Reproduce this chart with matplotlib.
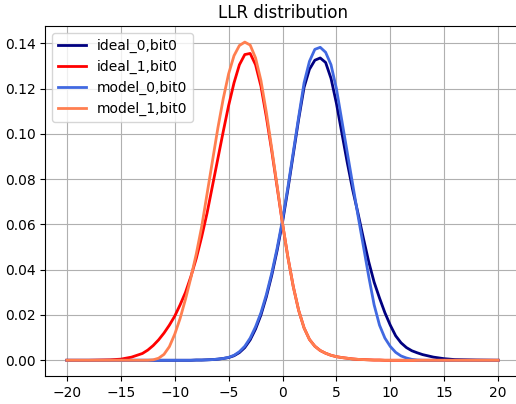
import matplotlib
matplotlib.use("Agg")
import matplotlib.pyplot as plt

# LLR axis (shared by all series)
llr = [-20, -18, -16, -15, -14, -13, -12.5, -12, -11.5, -11, -10.5, -10, -9.5, -9, -8.5, -8,
       -7.5, -7, -6.5, -6, -5.5, -5, -4.5, -4, -3.5, -3, -2.5, -2, -1.5, -1, -0.5, 0,
       0.5, 1, 1.5, 2, 2.5, 3, 3.5, 4, 4.5, 5, 5.5, 6, 6.5, 7, 7.5, 8, 8.5, 9, 9.5, 10,
       10.5, 11, 11.5, 12, 12.5, 13, 14, 15, 16, 18, 20]

ideal_0 = [0, 0, 0, 0, 0, 0, 0, 0, 0, 0, 0, 0, 0, 0, 0, 0.0001,
           0.0001, 0.0002, 0.0003, 0.0005, 0.0008, 0.0012, 0.002, 0.0034, 0.0056, 0.009, 0.0138, 0.0200, 0.028, 0.0375, 0.0485, 0.061,
           0.0755, 0.091, 0.1065, 0.1205, 0.1285, 0.1325, 0.1335, 0.1315, 0.1245, 0.1135, 0.1005, 0.0875, 0.0755, 0.065, 0.054, 0.0435, 0.0345, 0.0275, 0.021, 0.0155,
           0.0108, 0.0077, 0.0056, 0.0042, 0.0033, 0.0025, 0.0014, 0.0007, 0.0003, 0.0001, 0]

ideal_1 = [0, 0, 0.0002, 0.0005, 0.0014, 0.003, 0.0045, 0.0065, 0.009, 0.012, 0.0155, 0.0195, 0.0245, 0.030, 0.037, 0.045,
           0.0545, 0.065, 0.077, 0.089, 0.101, 0.1125, 0.1225, 0.1305, 0.135, 0.1355, 0.1305, 0.121, 0.1075, 0.0925, 0.0765, 0.0603,
           0.0455, 0.0325, 0.022, 0.0143, 0.0092, 0.0062, 0.0043, 0.0031, 0.0022, 0.0016, 0.0012, 0.0009, 0.0006, 0.0004, 0.0003, 0.0002, 0.0001, 0.0001, 0, 0,
           0, 0, 0, 0, 0, 0, 0, 0, 0, 0, 0]

model_0 = [0, 0, 0, 0, 0, 0, 0, 0, 0, 0, 0, 0, 0, 0, 0, 0.0001,
           0.0001, 0.0002, 0.0003, 0.0005, 0.0008, 0.0013, 0.0022, 0.0038, 0.0062, 0.0098, 0.0148, 0.021, 0.029, 0.0385, 0.0495, 0.062,
           0.0765, 0.092, 0.1075, 0.1225, 0.132, 0.1373, 0.1382, 0.136, 0.1305, 0.120, 0.106, 0.092, 0.078, 0.064, 0.0505, 0.037, 0.0245, 0.0155, 0.0098, 0.0061,
           0.0035, 0.0019, 0.001, 0.0004, 0.0001, 0, 0, 0, 0, 0, 0]

model_1 = [0, 0, 0, 0, 0, 0, 0, 0.0002, 0.0009, 0.0026, 0.006, 0.0115, 0.0185, 0.027, 0.0365, 0.047,
           0.059, 0.0735, 0.088, 0.1025, 0.1155, 0.1265, 0.1345, 0.139, 0.1405, 0.1392, 0.1335, 0.1235, 0.1095, 0.0935, 0.077, 0.0605,
           0.0455, 0.0325, 0.022, 0.0143, 0.0092, 0.0062, 0.0043, 0.0031, 0.0022, 0.0016, 0.0012, 0.0009, 0.0006, 0.0004, 0.0003, 0.0002, 0.0001, 0.0001, 0, 0,
           0, 0, 0, 0, 0, 0, 0, 0, 0, 0, 0]

series = [
    ("ideal_0,bit0", ideal_0, "navy"),
    ("ideal_1,bit0", ideal_1, "red"),
    ("model_0,bit0", model_0, "royalblue"),
    ("model_1,bit0", model_1, "coral"),
]

fig = plt.figure(figsize=(5.16, 4.04), dpi=100)
ax = fig.add_axes([0.088, 0.069, 0.919, 0.866])
for label, vals, color in series:
    ax.plot(llr, vals, color=color, lw=2, label=label)

ax.set_xlim(-22, 22)
ax.set_ylim(-0.007, 0.1475)
ax.set_xticks([-20, -15, -10, -5, 0, 5, 10, 15, 20])
ax.set_yticks([0.00, 0.02, 0.04, 0.06, 0.08, 0.10, 0.12, 0.14])
ax.grid(True)
ax.set_title("LLR distribution")
ax.legend(loc="upper left")
fig.savefig("out.png", dpi=100)
